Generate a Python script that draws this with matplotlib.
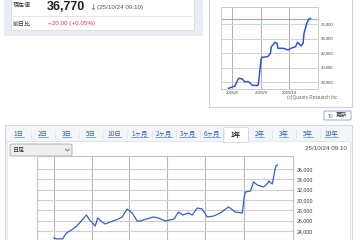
import datetime as dt

import matplotlib
matplotlib.use("Agg")
import matplotlib.pyplot as plt
import matplotlib.dates as mdates
from matplotlib.lines import Line2D
from matplotlib.patches import FancyBboxPatch, Rectangle
from matplotlib.ticker import FixedLocator, FuncFormatter

plt.rcParams["font.family"] = ["Noto Sans CJK JP", "DejaVu Sans"]

W, H = 360, 240

# ---------------------------------------------------------------------------
# Data
# ---------------------------------------------------------------------------

price_text = "36,770"
quote_time = "(25/10/24 09:10)"
change_text = "+20.00 (+0.05%)"
prev_close = 36750
stamp_text = "25/10/24 09:10"
copyright_text = "(c)Quants Research Inc."

tab_labels = ["1日", "2日", "3日", "5日", "10日", "1ヶ月", "2ヶ月", "3ヶ月",
              "6ヶ月", "1年", "2年", "3年", "5年", "10年"]
active_tab = "1年"

# 1-year daily chart (bottom panel)
year_dates = [
    "2024-11-01", "2024-11-05", "2024-11-15", "2024-11-21", "2024-11-29",
    "2024-12-06", "2024-12-16", "2024-12-23", "2024-12-27", "2025-01-06",
    "2025-01-10", "2025-01-17", "2025-01-22", "2025-01-30", "2025-02-12",
    "2025-02-18", "2025-02-26", "2025-03-06", "2025-03-14", "2025-03-19",
    "2025-03-28", "2025-04-09", "2025-04-17", "2025-04-28", "2025-05-12",
    "2025-05-19", "2025-05-26", "2025-06-04", "2025-06-10", "2025-06-18",
    "2025-06-26", "2025-07-04", "2025-07-14", "2025-07-25", "2025-08-07",
    "2025-08-18", "2025-08-29", "2025-09-01", "2025-09-03", "2025-09-11",
    "2025-09-16", "2025-09-22", "2025-10-02", "2025-10-09", "2025-10-10",
    "2025-10-16", "2025-10-20", "2025-10-22", "2025-10-24",
]
year_values = [
    22650, 22480, 22500, 23620, 24190,
    24780, 26130, 27100, 26330, 24970,
    26520, 25740, 25360, 25740, 26330,
    26710, 28260, 27490, 25940, 25940,
    26300, 26710, 26520, 25940, 26330,
    27680, 27100, 27490, 27100, 28450,
    28260, 26710, 26900, 27490, 28650,
    27680, 27490, 30580, 31550, 31740,
    33480, 32900, 32520, 33290, 33680,
    33100, 35810, 36650, 36770,
]
year_grid = ["2024-11-01", "2025-01-01", "2025-03-01", "2025-05-01",
             "2025-07-01", "2025-09-01"]
year_yticks = [24000, 26000, 28000, 30000, 32000, 34000, 36000]

# 3-month thumbnail chart (top right)
recent_dates = [
    "2025-07-28", "2025-07-31", "2025-08-04", "2025-08-06", "2025-08-08",
    "2025-08-12", "2025-08-14", "2025-08-18", "2025-08-20", "2025-08-22",
    "2025-08-27", "2025-08-29", "2025-09-01", "2025-09-02", "2025-09-08",
    "2025-09-11", "2025-09-12", "2025-09-16", "2025-09-18", "2025-09-19",
    "2025-09-25", "2025-09-30", "2025-10-03", "2025-10-08", "2025-10-10",
    "2025-10-14", "2025-10-16", "2025-10-17", "2025-10-20", "2025-10-22",
    "2025-10-24",
]
recent_values = [
    27130, 27270, 27450, 28050, 28510,
    28420, 28050, 28050, 27900, 27590,
    27500, 27590, 31130, 31400, 31500,
    31960, 32880, 33480, 33340, 32650,
    32650, 32410, 32650, 32880, 33480,
    32970, 33340, 34720, 36100, 36650,
    36770,
]
recent_grid = ["2025-08-01", "2025-09-01", "2025-10-01"]
recent_grid_labels = ["2025/8", "2025/9", "2025/10"]
recent_yticks = [28000, 30000, 32000, 34000, 36000]


# ---------------------------------------------------------------------------
# Pixel helpers (origin top-left, like the screenshot)
# ---------------------------------------------------------------------------

def to_dates(strings):
    return [dt.datetime.strptime(s, "%Y-%m-%d") for s in strings]


def fx(x):
    return x / W


def fy(y):
    return 1 - y / H


def box(fig, x0, y0, x1, y1, **kw):
    kw.setdefault("zorder", -5)
    fig.patches.append(Rectangle((fx(x0), fy(y1)), (x1 - x0) / W, (y1 - y0) / H,
                                 transform=fig.transFigure, **kw))


def hline(fig, x0, x1, y, **kw):
    fig.lines.append(Line2D([fx(x0), fx(x1)], [fy(y), fy(y)],
                            transform=fig.transFigure, **kw))


def text(fig, x, y, s, **kw):
    kw.setdefault("va", "center")
    return fig.text(fx(x), fy(y), s, **kw)


def add_axes(fig, x0, y0, x1, y1):
    return fig.add_axes([fx(x0), fy(y1), (x1 - x0) / W, (y1 - y0) / H])


comma = FuncFormatter(lambda v, _: f"{v:,.0f}")
latin = ["Liberation Sans", "Noto Sans CJK JP"]

fig = plt.figure(figsize=(W / 100, H / 100), dpi=100)
fig.patch.set_facecolor("white")

# ---------------------------------------------------------------------------
# Top-left quote box
# ---------------------------------------------------------------------------
box(fig, 4, -5, 203, 36, facecolor="#e9edf3", edgecolor="none")
box(fig, 11, -5, 194, 30, facecolor="white", edgecolor="#d6dce6", linewidth=0.6)
hline(fig, 13, 192, 16, color="#e2e2e2", linewidth=0.6)

text(fig, 13, 5.5, "現在値", fontsize=4.3, color="#333333")
text(fig, 47, 9.8, price_text, fontsize=9, fontweight="bold", color="#222222",
     family=latin, va="baseline")
text(fig, 89, 7, "↓", fontsize=6, color="#3b6fd1", family="DejaVu Sans")
text(fig, 97, 7, quote_time, fontsize=4.5, color="#555555", family=latin)
text(fig, 13, 24, "前日比", fontsize=4.3, color="#333333")
text(fig, 48, 24, change_text, fontsize=4.5, color="#e8305a", family=latin)

# ---------------------------------------------------------------------------
# Top-right thumbnail chart
# ---------------------------------------------------------------------------
box(fig, 209, -5, 352, 107, facecolor="white", edgecolor="#c9d3e3", linewidth=0.8)

rd = to_dates(recent_dates)
ax_s = add_axes(fig, 221, 7, 318, 89)
ax_s.set_facecolor("white")
ax_s.plot(rd, recent_values, color="#3557c0", linewidth=1.1, zorder=3)
ax_s.axhline(prev_close, color="#f08a8a", linewidth=0.8, zorder=2)
ax_s.set_xlim(dt.datetime(2025, 7, 20), dt.datetime(2025, 11, 1))
ax_s.set_ylim(27036, 38344)
ax_s.xaxis.set_major_locator(FixedLocator(mdates.date2num(to_dates(recent_grid))))
ax_s.set_xticklabels(recent_grid_labels)
ax_s.yaxis.set_major_locator(FixedLocator(recent_yticks))
ax_s.yaxis.set_major_formatter(comma)
ax_s.yaxis.tick_right()
ax_s.tick_params(length=0, labelsize=3.1, colors="#444444", pad=2)
ax_s.tick_params(axis="x", pad=1.5)
ax_s.grid(axis="y", color="#d2d2d2", linewidth=0.7)
ax_s.grid(axis="x", color="#b0b0b0", linewidth=0.7)
for spine in ax_s.spines.values():
    spine.set_color("#cccccc")
    spine.set_linewidth(0.7)

text(fig, 287, 98, copyright_text, fontsize=3.4, color="#666666", family=latin)

# refresh button
fig.patches.append(FancyBboxPatch((fx(324), fy(120)), 27 / W, 9 / H,
                                  boxstyle="round,pad=0,rounding_size=0.004",
                                  transform=fig.transFigure, facecolor="white",
                                  edgecolor="#8fa8d2", linewidth=0.7, zorder=-4))
text(fig, 327, 115.5, "↻", fontsize=4.5, color="#3b6fd1", family="DejaVu Sans")
text(fig, 336, 115.5, "更新", fontsize=4.2, color="#333333")

# ---------------------------------------------------------------------------
# Bottom panel: tabs, selector and 1-year chart
# ---------------------------------------------------------------------------
box(fig, 5, 125, 352, 250, facecolor="#f3f5f9", edgecolor="#d0d7e2", linewidth=0.7)
box(fig, 7, 141, 350, 250, facecolor="white", edgecolor="#dde2ea", linewidth=0.6,
    zorder=-4)

tab_centers = [18.5, 43, 66.5, 90.5, 114.5, 139.5, 163.5, 187.5, 211.5, 236,
               259.5, 283.5, 308, 331.5]
tab_texts = []
for label, cx in zip(tab_labels, tab_centers):
    if label == active_tab:
        box(fig, 223, 127, 248, 142, facecolor="white", edgecolor="#d0d7e2",
            linewidth=0.6, zorder=-3)
        text(fig, cx, 134, label, fontsize=4.6, color="#222222",
             fontweight="bold", ha="center")
    else:
        tab_texts.append(text(fig, cx, 134, label, fontsize=4.6,
                              color="#2f62b3", ha="center"))
for a, b in zip(tab_centers[:-1], tab_centers[1:]):
    xm = (a + b) / 2
    fig.lines.append(Line2D([fx(xm), fx(xm)], [fy(130), fy(138)],
                            transform=fig.transFigure, color="#c8ced8",
                            linewidth=0.5, linestyle=(0, (1, 1))))

# selector
fig.patches.append(FancyBboxPatch((fx(10), fy(156)), 62 / W, 12 / H,
                                  boxstyle="round,pad=0,rounding_size=0.006",
                                  transform=fig.transFigure, facecolor="#efefef",
                                  edgecolor="#a9a9a9", linewidth=0.6, zorder=-2))
text(fig, 13, 150, "日足", fontsize=4.3, color="#222222")
fig.lines.append(Line2D([fx(65.5), fx(67.5), fx(69.5)], [fy(149), fy(151), fy(149)],
                        transform=fig.transFigure, color="#555555", linewidth=0.5))

text(fig, 347, 148, stamp_text, fontsize=4.5, color="#444444", ha="right",
     family=latin)

yd = to_dates(year_dates)
ax_m = add_axes(fig, 37, 156, 293, 240)
ax_m.set_facecolor("white")
ax_m.plot(yd, year_values, color="#3a5fc6", linewidth=0.9, zorder=3)
ax_m.set_xlim(dt.datetime(2024, 10, 5), dt.datetime(2025, 11, 18))
ax_m.set_ylim(22261, 38516)
ax_m.xaxis.set_major_locator(FixedLocator(mdates.date2num(to_dates(year_grid))))
ax_m.xaxis.set_major_formatter(FuncFormatter(lambda v, _: ""))
ax_m.yaxis.set_major_locator(FixedLocator(year_yticks))
ax_m.yaxis.set_major_formatter(comma)
ax_m.yaxis.tick_right()
ax_m.tick_params(length=0, labelsize=3.8, colors="#333333", pad=3)
ax_m.grid(axis="y", color="#cfcfcf", linewidth=0.8)
ax_m.grid(axis="x", color="#b8b8b8", linewidth=0.8)
for spine in ax_m.spines.values():
    spine.set_color("#c4c4c4")
    spine.set_linewidth(0.8)
for t in ax_m.get_yticklabels():
    t.set_family(latin)
for t in ax_s.get_yticklabels() + ax_s.get_xticklabels():
    t.set_family(latin)

# underline the link tabs
fig.canvas.draw()
inv = fig.transFigure.inverted()
for t in tab_texts:
    bb = t.get_window_extent()
    (x0, y0), (x1, _) = inv.transform([(bb.x0, bb.y0), (bb.x1, bb.y1)])
    fig.lines.append(Line2D([x0, x1], [y0 + 0.8 / H, y0 + 0.8 / H],
                            transform=fig.transFigure, color="#2f62b3",
                            linewidth=0.4))

fig.savefig("out.png", dpi=100)
